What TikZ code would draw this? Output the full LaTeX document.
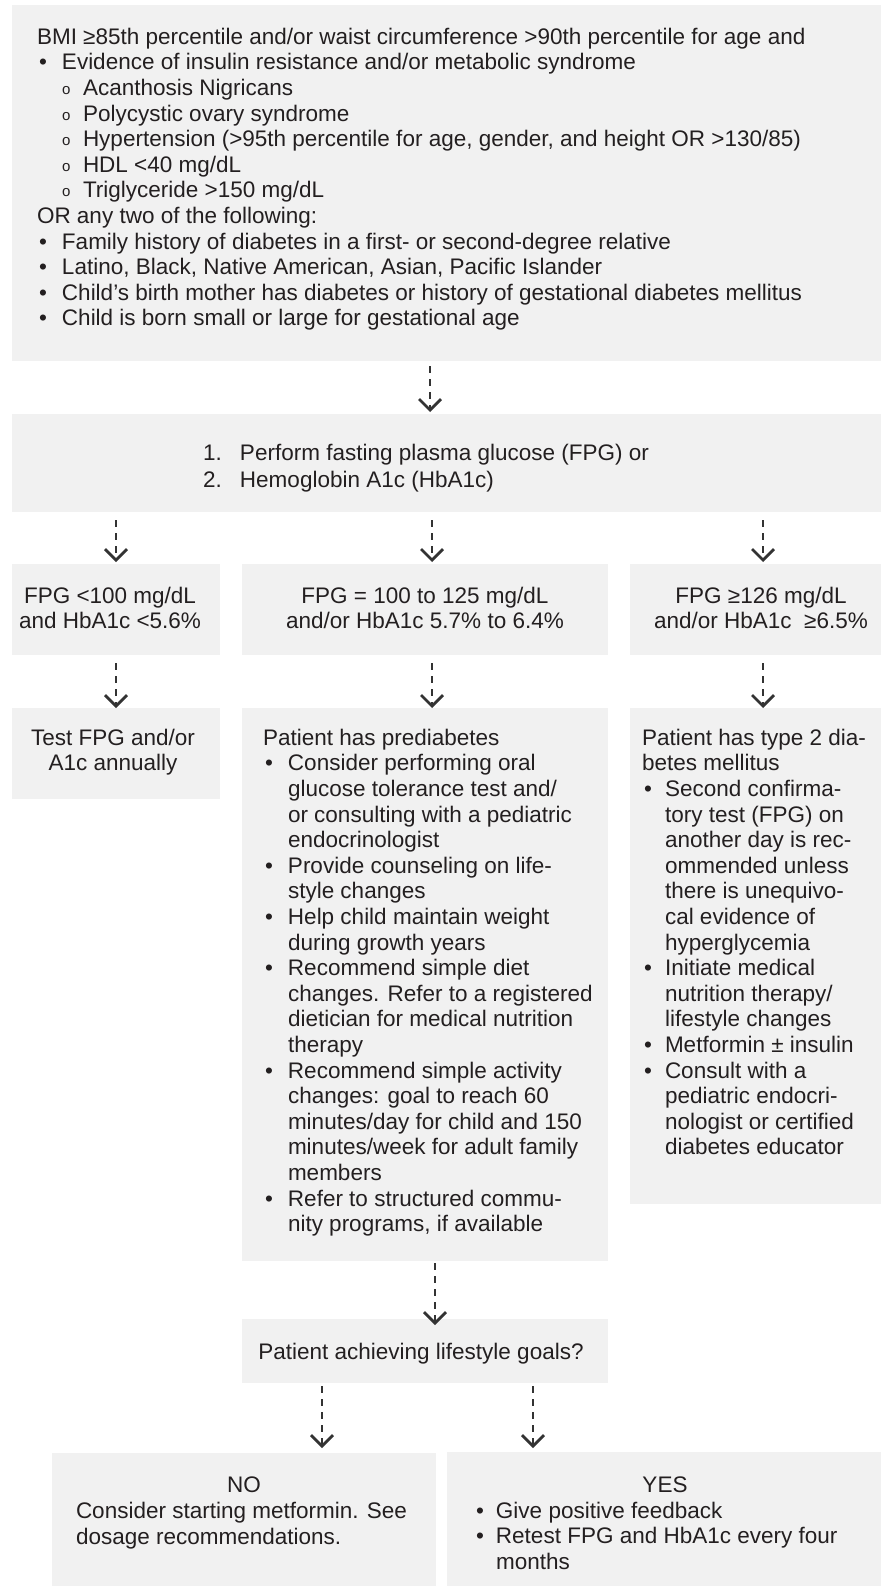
\documentclass[tikz,border=0pt]{standalone}
\usepackage{fontspec}
\setmainfont{Liberation Sans}
\usetikzlibrary{arrows.meta}
\definecolor{boxgray}{RGB}{241,241,241}
\definecolor{txtcol}{RGB}{35,31,32}
\definecolor{arrcol}{RGB}{51,51,51}
\newcommand{\mybul}{\makebox[25pt][l]{\hspace{2pt}•}}
\newcommand{\myind}{\makebox[25pt]{}}
\newcommand{\mybulb}{\makebox[23pt][l]{\hspace{2pt}•}}
\newcommand{\myindb}{\makebox[23pt]{}}
\newcommand{\mysub}{\makebox[25pt]{}\makebox[21pt][l]{\raisebox{1pt}{\fontsize{15}{15}\selectfont o}}}
\begin{document}
\begin{tikzpicture}[x=1pt,y=-1pt,
  box/.style={fill=boxgray, draw=none, inner sep=0pt, outer sep=0pt, anchor=north west},
  txt/.style={inner sep=0pt, outer sep=0pt, text=txtcol, font=\fontsize{22.5}{25.6}\selectfont, align=left, anchor=north west},
  ctxt/.style={txt, align=center, anchor=north},
  arr/.style={draw=arrcol, line width=2.7pt, dash pattern=on 7pt off 6pt, -{Straight Barb[length=11pt,width=22pt]}}]
\useasboundingbox[fill=white] (0,0) rectangle (883,1586);

% boxes
\node[box, minimum width=869pt, minimum height=356pt] (top) at (12,5) {};
\node[box, minimum width=869pt, minimum height=98pt] (box2) at (12,414) {};
\node[box, minimum width=208pt, minimum height=91pt] (r3l) at (12,564) {};
\node[box, minimum width=366pt, minimum height=91pt] (r3m) at (242,564) {};
\node[box, minimum width=251pt, minimum height=91pt] (r3r) at (630,564) {};
\node[box, minimum width=208pt, minimum height=91pt] (r4l) at (12,708) {};
\node[box, minimum width=366pt, minimum height=553pt] (r4m) at (242,708) {};
\node[box, minimum width=251pt, minimum height=496pt] (r4r) at (630,708) {};
\node[box, minimum width=366pt, minimum height=64pt] (life) at (242,1319) {};
\node[box, minimum width=384pt, minimum height=133pt] (no) at (52,1453) {};
\node[box, minimum width=434pt, minimum height=134pt] (yes) at (447,1452) {};

% texts
\node[txt] (ttop) at (37,28) {BMI ≥85th percentile and/or waist circumference >90th percentile for age and\\
\mybul Evidence of insulin resistance and/or metabolic syndrome\\
\mysub Acanthosis Nigricans\\
\mysub Polycystic ovary syndrome\\
\mysub Hypertension (>95th percentile for age, gender, and height OR >130/85)\\
\mysub HDL <40 mg/dL\\
\mysub Triglyceride >150 mg/dL\\
OR any two of the following:\\
\mybul Family history of diabetes in a first- or second-degree relative\\
\mybul Latino, Black, Native American, Asian, Pacific Islander\\
\mybul Child’s birth mother has diabetes or history of gestational diabetes mellitus\\
\mybul Child is born small or large for gestational age};

\node[txt, font=\fontsize{22.5}{27}\selectfont] (tbox2) at (203,444) {\makebox[37pt][l]{1.}Perform fasting plasma glucose (FPG) or\\
\makebox[37pt][l]{2.}Hemoglobin A1c (HbA1c)};

\node[ctxt, font=\fontsize{22.5}{25}\selectfont] (t3l) at (110,587) {FPG <100 mg/dL\\and HbA1c <5.6\%};
\node[ctxt, font=\fontsize{22.5}{25}\selectfont] (t3m) at (425,587) {FPG = 100 to 125 mg/dL\\and/or HbA1c 5.7\% to 6.4\%};
\node[ctxt, font=\fontsize{22.5}{25}\selectfont] (t3r) at (761,587) {FPG ≥126 mg/dL\\and/or HbA1c\ \ ≥6.5\%};

\node[ctxt, font=\fontsize{22.5}{25}\selectfont] (t4l) at (113,729) {Test FPG and/or\\A1c annually};

\node[txt] (t4m) at (263,729) {Patient has prediabetes\\
\mybul Consider performing oral\\
\myind glucose tolerance test and/\\
\myind or consulting with a pediatric\\
\myind endocrinologist\\
\mybul Provide counseling on life-\\
\myind style changes\\
\mybul Help child maintain weight\\
\myind during growth years\\
\mybul Recommend simple diet\\
\myind changes. Refer to a registered\\
\myind dietician for medical nutrition\\
\myind therapy\\
\mybul Recommend simple activity\\
\myind changes: goal to reach 60\\
\myind minutes/day for child and 150\\
\myind minutes/week for adult family\\
\myind members\\
\mybul Refer to structured commu-\\
\myind nity programs, if available};

\node[txt] (t4r) at (642,729) {Patient has type 2 dia-\\
betes mellitus\\
\mybulb Second confirma-\\
\myindb tory test (FPG) on\\
\myindb another day is rec-\\
\myindb ommended unless\\
\myindb there is unequivo-\\
\myindb cal evidence of\\
\myindb hyperglycemia\\
\mybulb Initiate medical\\
\myindb nutrition therapy/\\
\myindb lifestyle changes\\
\mybulb Metformin ± insulin\\
\mybulb Consult with a\\
\myindb pediatric endocri-\\
\myindb nologist or certified\\
\myindb diabetes educator};

\node[ctxt] (tlife) at (421,1343) {Patient achieving lifestyle goals?};

\node[txt, font=\fontsize{22.5}{26}\selectfont] (tno) at (76,1477) {\makebox[336pt]{NO}\\
Consider starting metformin. See\\
dosage recommendations.};

\node[txt] (tyes) at (474,1477) {\makebox[382pt]{YES}\\
\makebox[22pt][l]{\hspace{2pt}•}Give positive feedback\\
\makebox[22pt][l]{\hspace{2pt}•}Retest FPG and HbA1c every four\\
\makebox[22pt]{}months};

% arrow columns
\coordinate (ax1) at (430,0);
\coordinate (ax2) at (116,0);
\coordinate (ax3) at (432,0);
\coordinate (ax4) at (763,0);
\coordinate (ax5) at (435,0);
\coordinate (ax6) at (322,0);
\coordinate (ax7) at (533,0);

% connectors
\draw[arr, shorten <=5pt, shorten >=2pt] (top.south -| ax1) -- (box2.north -| ax1);
\draw[arr, shorten <=8pt, shorten >=2pt] (box2.south -| ax2) -- (r3l.north -| ax2);
\draw[arr, shorten <=8pt, shorten >=2pt] (box2.south -| ax3) -- (r3m.north -| ax3);
\draw[arr, shorten <=8pt, shorten >=2pt] (box2.south -| ax4) -- (r3r.north -| ax4);
\draw[arr, shorten <=8pt, shorten >=0pt] (r3l.south -| ax2) -- (r4l.north -| ax2);
\draw[arr, shorten <=8pt, shorten >=0pt] (r3m.south -| ax3) -- (r4m.north -| ax3);
\draw[arr, shorten <=8pt, shorten >=0pt] (r3r.south -| ax4) -- (r4r.north -| ax4);
\draw[arr, shorten <=2pt, shorten >=-6pt] (r4m.south -| ax5) -- (life.north -| ax5);
\draw[arr, shorten <=3pt, shorten >=5pt] (life.south -| ax6) -- (no.north -| ax6);
\draw[arr, shorten <=3pt, shorten >=4pt] (life.south -| ax7) -- (yes.north -| ax7);
\end{tikzpicture}
\end{document}
